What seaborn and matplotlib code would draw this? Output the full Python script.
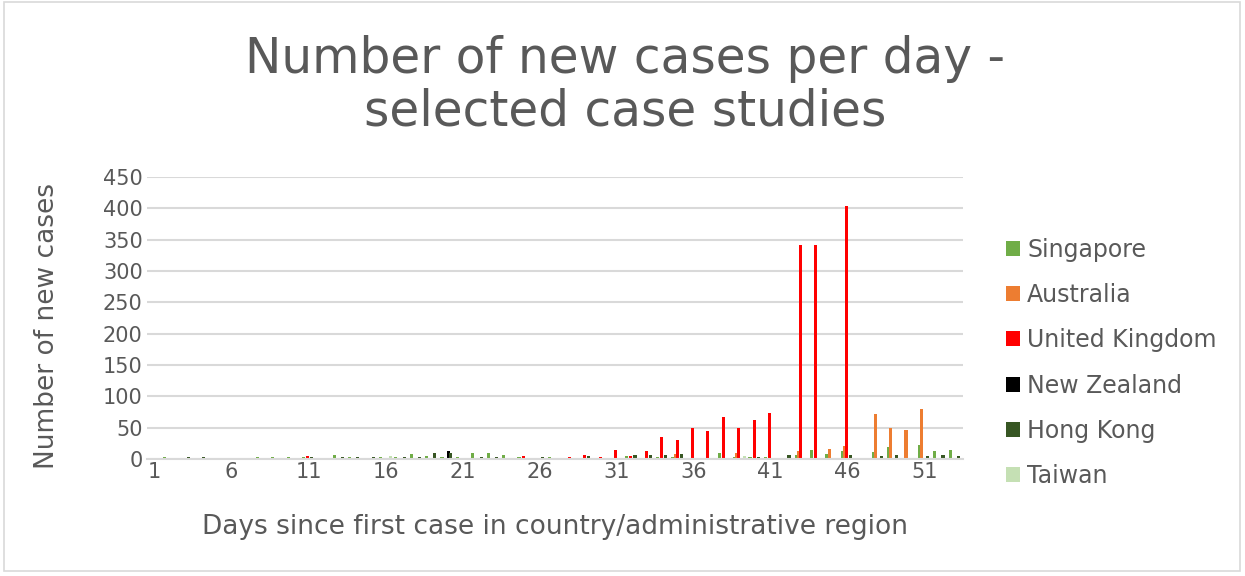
import numpy as np
import pandas as pd
import matplotlib.pyplot as plt
import seaborn as sns
from matplotlib.patches import Rectangle

# Daily new cases, day 1..53 since each country's first case
days = list(range(1, 54))
singapore = [1, 3, 0, 2, 0, 2, 0, 3, 3, 3, 3, 0, 7, 4, 0, 3, 4, 8, 5, 3,
             3, 9, 10, 6, 3, 2, 4, 2, 0, 1, 0, 5, 0, 3, 3, 0, 0, 10, 4, 3,
             3, 0, 7, 14, 8, 13, 0, 11, 19, 0, 22, 13, 15]
australia = [1, 0, 0, 0, 1, 0, 1, 0, 0, 0, 0, 0, 0, 0, 0, 0, 0, 0, 0, 0,
             0, 0, 0, 0, 0, 0, 0, 0, 0, 0, 0, 0, 0, 0, 8, 0, 0, 0, 9, 0,
             2, 2, 12, 0, 16, 20, 0, 72, 49, 46, 80, 0, 0]
united_kingdom = [2, 0, 0, 0, 0, 0, 0, 1, 0, 0, 5, 0, 1, 0, 0, 0, 0, 0, 0, 0,
                  0, 0, 0, 0, 5, 0, 0, 3, 6, 4, 14, 5, 12, 35, 31, 49, 44, 67, 49, 62,
                  74, 0, 342, 342, 0, 403, 0, 0, 0, 0, 0, 0, 0]
new_zealand = [1, 0, 0, 0, 0, 1, 0, 0, 0, 0, 0, 0, 0, 0, 0, 0, 0, 0, 2, 12,
               0, 0, 0, 0, 0, 0, 0, 0, 0, 0, 0, 0, 0, 0, 0, 0, 0, 0, 0, 0,
               0, 0, 0, 0, 0, 0, 0, 0, 0, 0, 0, 0, 0]
hong_kong = [1, 0, 3, 3, 0, 2, 0, 2, 2, 1, 3, 0, 3, 4, 3, 2, 3, 3, 10, 9,
             2, 3, 3, 0, 1, 3, 2, 1, 5, 0, 1, 6, 6, 6, 8, 2, 0, 2, 0, 4,
             0, 6, 0, 2, 1, 6, 1, 5, 6, 2, 5, 6, 5]
taiwan = [1, 0, 1, 0, 0, 0, 2, 0, 0, 0, 0, 0, 0, 0, 0, 5, 0, 0, 0, 0,
          0, 0, 0, 2, 0, 0, 0, 0, 0, 0, 2, 0, 0, 0, 0, 0, 1, 0, 5, 0,
          0, 0, 0, 0, 1, 0, 0, 0, 2, 0, 0, 0, 2]

countries = ['Singapore', 'Australia', 'United Kingdom', 'New Zealand', 'Hong Kong', 'Taiwan']
colors = ['#70AD47', '#ED7D31', '#FF0000', '#000000', '#375623', '#C5E0B4']
series = [singapore, australia, united_kingdom, new_zealand, hong_kong, taiwan]

rows = []
for name, vals in zip(countries, series):
    for d, v in zip(days, vals):
        rows.append({'day': d, 'cases': v, 'country': name})
df = pd.DataFrame(rows)

sns.set_style('white')
plt.rcParams['font.family'] = ['DejaVu Sans']
text_color = '#595959'
grid_color = '#D9D9D9'

fig = plt.figure(figsize=(12.45, 5.76), dpi=100)
ax = fig.add_axes([0.118, 0.2031, 0.6555, 0.4896])

sns.barplot(data=df, x='day', y='cases', hue='country', hue_order=countries,
            palette=colors, width=0.8, saturation=1, linewidth=0, ax=ax, legend=True)

# Excel-style overlapping columns: widen each bar around its centre
for p in ax.patches:
    w = p.get_width()
    p.set_x(p.get_x() - w * 0.25)
    p.set_width(w * 1.5)
    p.set_antialiased(False)

ax.set_ylim(0, 450)
ax.set_yticks(range(0, 451, 50))
ax.set_xlim(-0.5, len(days) - 0.5)
ax.set_xticks(range(0, len(days), 5))
ax.set_xticklabels([str(d) for d in days[::5]])
ax.tick_params(axis='both', length=0, labelsize=15, colors=text_color)
ax.tick_params(axis='x', pad=2)
ax.tick_params(axis='y', pad=3)
ax.yaxis.grid(True, color=grid_color, linewidth=1.5)
ax.set_axisbelow(True)
for s in ['top', 'right', 'left']:
    ax.spines[s].set_visible(False)
ax.spines['bottom'].set_color(grid_color)
ax.spines['bottom'].set_linewidth(1.5)

ax.set_xlabel('Days since first case in country/administrative region', fontsize=19,
              color=text_color, labelpad=23)
ax.set_ylabel('Number of new cases', fontsize=19, color=text_color)
ax.yaxis.set_label_coords(-0.107, 0.47)

fig.suptitle('Number of new cases per day -\nselected case studies', fontsize=35,
             color=text_color, x=0.502, y=0.94, linespacing=1.12)

ax.legend(loc='center left', bbox_to_anchor=(0.791, 0.37), bbox_transform=fig.transFigure,
          frameon=False, fontsize=17, labelcolor=text_color, handlelength=0.6,
          handleheight=0.6, handletextpad=0.3, labelspacing=0.9)

fig.patches.append(Rectangle((0.003, 0.008), 0.993, 0.988, transform=fig.transFigure,
                             fill=False, edgecolor=grid_color, linewidth=1.2))

fig.savefig('out.png', dpi=100)
